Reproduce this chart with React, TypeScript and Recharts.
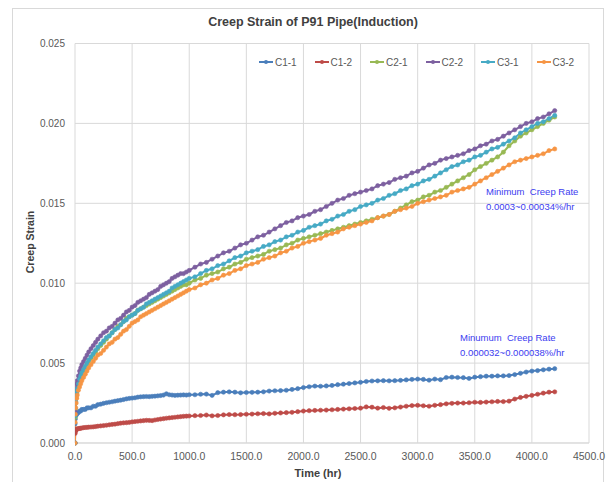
import React from 'react';
import { LineChart, Line, XAxis, YAxis, CartesianGrid } from 'recharts';

const TIME = [
  0, 1, 3, 6, 10, 15, 20, 30, 40, 50, 60, 75, 90, 105, 120, 140, 160, 180, 200,
  225, 250, 275, 300, 325, 350, 375, 400, 425, 450, 475, 500, 525, 550, 575, 600, 625, 650, 675, 700, 725, 750, 775, 800, 825, 850, 875, 900, 925, 950, 975, 1000,
  1050, 1100, 1150, 1200, 1250, 1300, 1350, 1400, 1450, 1500,
  1550, 1600, 1650, 1700, 1750, 1800, 1850, 1900, 1950, 2000,
  2050, 2100, 2150, 2200, 2250, 2300, 2350, 2400, 2450, 2500,
  2550, 2600, 2650, 2700, 2750, 2800, 2850, 2900, 2950, 3000,
  3050, 3100, 3150, 3200, 3250, 3300, 3350, 3400, 3450, 3500,
  3550, 3600, 3650, 3700, 3750, 3800, 3850, 3900, 3950, 4000,
  4050, 4100, 4150, 4200,
];

const C1_1 = [
  0, 0.0012, 0.0015, 0.0017, 0.00175, 0.0018, 0.0019, 0.0019, 0.0020, 0.0020, 0.0021, 0.0021, 0.0021, 0.0022, 0.0022, 0.0022, 0.0023, 0.0023, 0.0024,
  0.00243, 0.00248, 0.00252, 0.00255, 0.00258, 0.00262, 0.00265, 0.00268, 0.00272, 0.00276, 0.00279, 0.00281, 0.00283, 0.00287, 0.00289, 0.0029, 0.00291, 0.0029, 0.00292, 0.00293, 0.00295, 0.00297, 0.003, 0.00308, 0.00302, 0.003, 0.00298, 0.00299, 0.003, 0.00301, 0.003, 0.00302,
  0.00302, 0.00305, 0.00306, 0.00298, 0.00315, 0.00318, 0.0032, 0.00318, 0.00314, 0.00316,
  0.00317, 0.00318, 0.0032, 0.00325, 0.00327, 0.00328, 0.0033, 0.00335, 0.0034, 0.00347,
  0.00352, 0.00356, 0.00355, 0.00357, 0.0036, 0.00365, 0.00368, 0.00372, 0.00376, 0.0038,
  0.00385, 0.00388, 0.00389, 0.0039, 0.00389, 0.0039, 0.00392, 0.00395, 0.00398, 0.004,
  0.00398, 0.00393, 0.004, 0.00396, 0.0041, 0.00412, 0.0041, 0.00409, 0.00404, 0.00412,
  0.00415, 0.00418, 0.00418, 0.0042, 0.0042, 0.00422, 0.00428, 0.00436, 0.00444, 0.0045,
  0.00453, 0.00458, 0.00462, 0.00465,
];

const C1_2 = [
  0, 0.0006, 0.0007, 0.00078, 0.00082, 0.00086, 0.00088, 0.0009, 0.00091, 0.00092, 0.00094, 0.00096, 0.00097, 0.00098, 0.00099, 0.001, 0.00101, 0.00103, 0.00105,
  0.00107, 0.00109, 0.00111, 0.00114, 0.00116, 0.00118, 0.00121, 0.00124, 0.00126, 0.00127, 0.00129, 0.00132, 0.00134, 0.00136, 0.00138, 0.0014, 0.00142, 0.00141, 0.0014, 0.00144, 0.00147, 0.0015, 0.00152, 0.00155, 0.00157, 0.00159, 0.00161, 0.00163, 0.00165, 0.00167, 0.00168, 0.00169,
  0.00171, 0.00172, 0.00175, 0.0017, 0.00172, 0.00176, 0.00178, 0.00177, 0.00178, 0.0018,
  0.00181, 0.00183, 0.00184, 0.00182, 0.00186, 0.00188, 0.0019, 0.00192, 0.00196, 0.002,
  0.00202, 0.00204, 0.00205, 0.00206, 0.00208, 0.0021, 0.00212, 0.00214, 0.00216, 0.00218,
  0.00226, 0.00224, 0.00218, 0.00222, 0.00217, 0.0022, 0.00225, 0.0023, 0.00234, 0.00236,
  0.00233, 0.0023, 0.00236, 0.0024, 0.00245, 0.00248, 0.0025, 0.0025, 0.00252, 0.00255,
  0.00254, 0.00256, 0.00258, 0.0026, 0.00259, 0.00262, 0.00275, 0.00285, 0.00292, 0.00298,
  0.00305, 0.00312, 0.00318, 0.0032,
];

const C2_1 = [
  0, 0.0016, 0.0021, 0.0025, 0.0028, 0.0031, 0.0033, 0.0036, 0.0039, 0.0041, 0.0043, 0.0045, 0.0047, 0.0049, 0.0051, 0.0053, 0.0055, 0.0057, 0.0059,
  0.0061, 0.0063, 0.0065, 0.0067, 0.0069, 0.0071, 0.0073, 0.0074, 0.0076, 0.0078, 0.0079, 0.008, 0.0081, 0.0083, 0.0084, 0.0085, 0.0086, 0.0087, 0.0088, 0.0089, 0.009, 0.0091, 0.0092, 0.0093, 0.0094, 0.0095, 0.0096, 0.0097, 0.0098, 0.0099, 0.0099, 0.01,
  0.0102, 0.0103, 0.0105, 0.0106, 0.0107, 0.0109, 0.011, 0.0112, 0.0113, 0.0115,
  0.0116, 0.0117, 0.0118, 0.012, 0.0121, 0.0122, 0.0124, 0.0125, 0.0127, 0.0128,
  0.0129, 0.013, 0.0131, 0.0132, 0.0133, 0.0134, 0.0135, 0.0136, 0.0137, 0.0138,
  0.0139, 0.014, 0.0141, 0.0142, 0.0143, 0.0145, 0.0147, 0.0149, 0.0151, 0.0152,
  0.0154, 0.0155, 0.0157, 0.0158, 0.016, 0.0162, 0.0164, 0.0166, 0.0168, 0.0171,
  0.0173, 0.0175, 0.0177, 0.0179, 0.0182, 0.0186, 0.0189, 0.0192, 0.0194, 0.0196,
  0.0198, 0.02, 0.0202, 0.0204,
];

const C2_2 = [
  0, 0.002, 0.0026, 0.003, 0.0034, 0.0037, 0.0039, 0.0042, 0.0045, 0.0047, 0.0049, 0.0051, 0.0053, 0.0055, 0.0057, 0.0059, 0.0061, 0.0063, 0.0065,
  0.0067, 0.0069, 0.007, 0.0072, 0.0073, 0.0075, 0.0077, 0.0078, 0.008, 0.0082, 0.0083, 0.0085, 0.0086, 0.0088, 0.0089, 0.009, 0.0091, 0.0093, 0.0094, 0.0095, 0.0096, 0.0098, 0.0099, 0.01, 0.0101, 0.0103, 0.0104, 0.0105, 0.0106, 0.0106, 0.0107, 0.0108,
  0.011, 0.0112, 0.0113, 0.0115, 0.0117, 0.0119, 0.012, 0.0122, 0.0124, 0.0125,
  0.0127, 0.0129, 0.013, 0.0132, 0.0134, 0.0136, 0.0138, 0.0139, 0.0141, 0.0142,
  0.0143, 0.0145, 0.0146, 0.0148, 0.015, 0.0152, 0.0153, 0.0155, 0.0156, 0.0157,
  0.0158, 0.0159, 0.0161, 0.0162, 0.0163, 0.0165, 0.0166, 0.0167, 0.0169, 0.017,
  0.0172, 0.0174, 0.0175, 0.0177, 0.0178, 0.0179, 0.018, 0.0181, 0.0183, 0.0184,
  0.0186, 0.0187, 0.0189, 0.019, 0.0192, 0.0194, 0.0196, 0.0198, 0.02, 0.0201,
  0.0203, 0.0204, 0.0206, 0.0208,
];

const C3_1 = [
  0, 0.0017, 0.0022, 0.0026, 0.0029, 0.0032, 0.0034, 0.0037, 0.004, 0.0042, 0.0044, 0.0046, 0.0048, 0.005, 0.0052, 0.0054, 0.0056, 0.0058, 0.006,
  0.0062, 0.0064, 0.0066, 0.0067, 0.0069, 0.0071, 0.0072, 0.0074, 0.0076, 0.0077, 0.0079, 0.008, 0.0081, 0.0083, 0.0084, 0.0085, 0.0087, 0.0088, 0.0089, 0.009, 0.0091, 0.0092, 0.0093, 0.0094, 0.0095, 0.0097, 0.0098, 0.0099, 0.01, 0.0101, 0.0102, 0.0103,
  0.0104, 0.0106, 0.0108, 0.0109, 0.0111, 0.0112, 0.0114, 0.0116, 0.0117, 0.0119,
  0.012, 0.0121, 0.0123, 0.0124, 0.0126, 0.0127, 0.0129, 0.013, 0.0132, 0.0133,
  0.0135, 0.0136, 0.0137, 0.0139, 0.014, 0.0142, 0.0143, 0.0145, 0.0146, 0.0148,
  0.0149, 0.015, 0.0152, 0.0153, 0.0155, 0.0156, 0.0158, 0.0159, 0.0161, 0.0162,
  0.0164, 0.0165, 0.0167, 0.0169, 0.0171, 0.0173, 0.0174, 0.0176, 0.0177, 0.0179,
  0.018, 0.0182, 0.0184, 0.0185, 0.0187, 0.0189, 0.0191, 0.0194, 0.0196, 0.0198,
  0.02, 0.0201, 0.0203, 0.0205,
];

const C3_2 = [
  0, 0.0013, 0.0018, 0.0022, 0.0025, 0.0028, 0.003, 0.0033, 0.0035, 0.0037, 0.0039, 0.0041, 0.0043, 0.0045, 0.0047, 0.0049, 0.0051, 0.0053, 0.0055,
  0.0056, 0.0058, 0.006, 0.0062, 0.0063, 0.0065, 0.0066, 0.0068, 0.007, 0.0071, 0.0073, 0.0075, 0.0076, 0.0077, 0.0079, 0.008, 0.0081, 0.0082, 0.0083, 0.0084, 0.0085, 0.0086, 0.0087, 0.0088, 0.0089, 0.009, 0.0091, 0.0092, 0.0093, 0.0094, 0.0095, 0.0096,
  0.0097, 0.0099, 0.01, 0.0102, 0.0103, 0.0105, 0.0106, 0.0108, 0.0109, 0.0111,
  0.0112, 0.0113, 0.0115, 0.0116, 0.0117, 0.0119, 0.012, 0.0122, 0.0123, 0.0125,
  0.0126, 0.0127, 0.0128, 0.013, 0.0131, 0.0132, 0.0134, 0.0135, 0.0136, 0.0137,
  0.0138, 0.0139, 0.0141, 0.0142, 0.0143, 0.0145, 0.0146, 0.0147, 0.0148, 0.015,
  0.0151, 0.0152, 0.0153, 0.0154, 0.0155, 0.0157, 0.0158, 0.0159, 0.016, 0.0162,
  0.0164, 0.0166, 0.0168, 0.017, 0.0172, 0.0174, 0.0176, 0.0177, 0.0178, 0.0179,
  0.018, 0.0181, 0.0183, 0.0184,
];

const SERIES_NAMES = ['C1-1', 'C1-2', 'C2-1', 'C2-2', 'C3-1', 'C3-2'];
const SERIES_VALUES = [C1_1, C1_2, C2_1, C2_2, C3_1, C3_2];
const SERIES_COLORS = ['#4A7EBB', '#BE4B48', '#98B954', '#7D60A0', '#46AAC5', '#F69544'];

const X_TICKS = [0, 500, 1000, 1500, 2000, 2500, 3000, 3500, 4000, 4500];
const Y_TICKS = [0, 0.005, 0.01, 0.015, 0.02, 0.025];

const TITLE = 'Creep Strain of P91 Pipe(Induction)';
const X_LABEL = 'Time (hr)';
const Y_LABEL = 'Creep Strain';
const NOTE_1 = ['Minimum  Creep Rate', '0.0003~0.00034%/hr'];
const NOTE_2 = ['Minumum  Creep Rate', '0.000032~0.000038%/hr'];

const data = TIME.map((t, i) => {
  const row: Record<string, number> = { t };
  SERIES_NAMES.forEach((n, k) => {
    row[n] = SERIES_VALUES[k][i];
  });
  return row;
});

const FONT = '"Liberation Sans", Arial, sans-serif';
const TEXT_GRAY = '#595959';
const NOTE_BLUE = '#3C3CF0';

export default function App() {
  return (
    <div style={{ position: 'absolute', left: 0, top: 0, width: 609, height: 482, background: '#fff', fontFamily: FONT, overflow: 'hidden' }}>
      <div style={{ position: 'absolute', left: 12, top: 8, width: 592, height: 490, border: '1px solid #d9d9d9', boxSizing: 'border-box' }} />
      <LineChart width={609} height={482} data={data} margin={{ top: 43.5, right: 20, bottom: 0, left: 0 }} style={{ position: 'absolute', left: 0, top: 0 }}>
        <CartesianGrid stroke="#d9d9d9" strokeWidth={1} />
        <XAxis
          dataKey="t"
          type="number"
          domain={[0, 4500]}
          ticks={X_TICKS}
          tickFormatter={(v: number) => v.toFixed(1)}
          height={39}
          tickSize={0}
          tickMargin={10}
          axisLine={{ stroke: '#d9d9d9' }}
          tick={{ fill: TEXT_GRAY, fontSize: 10.5, fontFamily: FONT }}
          allowDataOverflow
        />
        <YAxis
          type="number"
          domain={[0, 0.025]}
          ticks={Y_TICKS}
          tickFormatter={(v: number) => v.toFixed(3)}
          width={75}
          tickSize={0}
          tickMargin={10}
          axisLine={false}
          tick={{ fill: TEXT_GRAY, fontSize: 10, fontFamily: FONT }}
        />
        {SERIES_NAMES.map((n, k) => (
          <Line
            key={n}
            type="linear"
            dataKey={n}
            stroke={SERIES_COLORS[k]}
            strokeWidth={2}
            dot={{ r: 2.1, fill: SERIES_COLORS[k], stroke: SERIES_COLORS[k], strokeWidth: 0.6 }}
            isAnimationActive={false}
          />
        ))}
      </LineChart>

      <div style={{ position: 'absolute', left: 0, width: 626, top: 15, textAlign: 'center', fontSize: 12.5, fontWeight: 'bold', color: '#404040', whiteSpace: 'nowrap' }}>
        {TITLE}
      </div>
      <div style={{ position: 'absolute', left: 268, width: 100, top: 467, textAlign: 'center', fontSize: 11, fontWeight: 'bold', color: '#404040', whiteSpace: 'nowrap' }}>
        {X_LABEL}
      </div>
      <div style={{ position: 'absolute', left: 30, top: 243, width: 0, height: 0 }}>
        <div style={{ position: 'absolute', left: -50, top: -7, width: 100, textAlign: 'center', transform: 'rotate(-90deg)', fontSize: 10.5, fontWeight: 'bold', color: '#404040', whiteSpace: 'nowrap' }}>
          {Y_LABEL}
        </div>
      </div>

      {SERIES_NAMES.map((n, k) => (
        <div key={n} style={{ position: 'absolute', left: 259 + k * 55.5, top: 55, height: 14, display: 'flex', alignItems: 'center', fontSize: 10, color: TEXT_GRAY, whiteSpace: 'nowrap' }}>
          <svg width={14} height={8} style={{ marginRight: 2 }}>
            <line x1={0} y1={4} x2={14} y2={4} stroke={SERIES_COLORS[k]} strokeWidth={2} />
            <circle cx={7} cy={4} r={2} fill={SERIES_COLORS[k]} />
          </svg>
          <span>{n}</span>
        </div>
      ))}

      <div style={{ position: 'absolute', left: 486, top: 184, fontSize: 9.5, lineHeight: '15px', color: NOTE_BLUE, whiteSpace: 'pre' }}>
        {NOTE_1[0]}
        <br />
        {NOTE_1[1]}
      </div>
      <div style={{ position: 'absolute', left: 460, top: 330, fontSize: 9.5, lineHeight: '15px', color: NOTE_BLUE, whiteSpace: 'pre' }}>
        {NOTE_2[0]}
        <br />
        {NOTE_2[1]}
      </div>
    </div>
  );
}
